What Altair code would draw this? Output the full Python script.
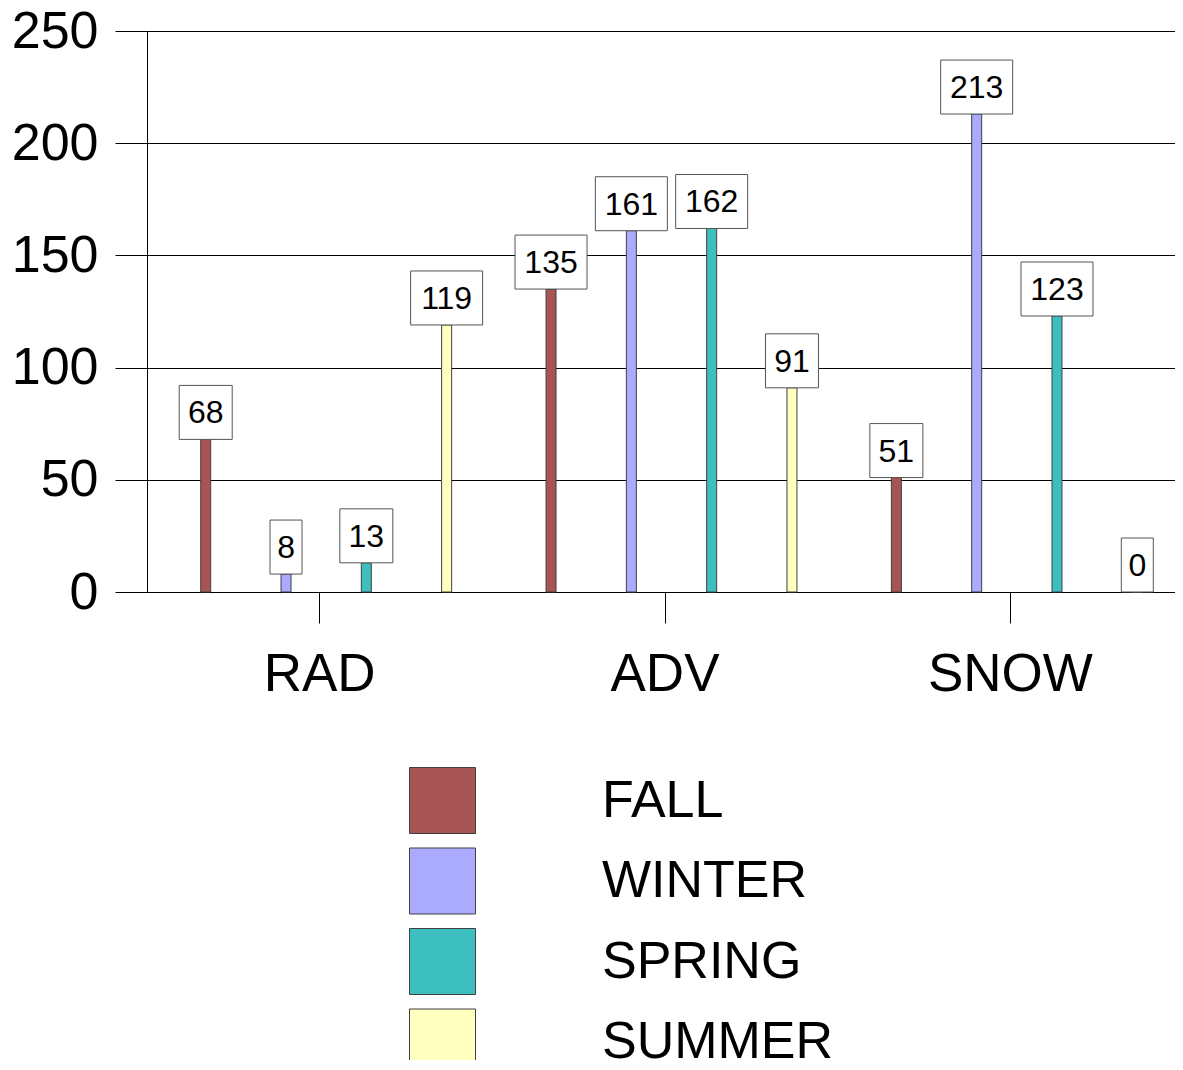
import altair as alt
import pandas as pd

categories = ["RAD", "ADV", "SNOW"]
seasons = ["FALL", "WINTER", "SPRING", "SUMMER"]
fall = [68, 135, 51]
winter = [8, 161, 213]
spring = [13, 162, 123]
summer = [119, 91, 0]
colors = ["#A85454", "#AAAAFF", "#3DBFBF", "#FFFFC0"]

series = {"FALL": fall, "WINTER": winter, "SPRING": spring, "SUMMER": summer}
rows = []
for s in seasons:
    for c, v in zip(categories, series[s]):
        rows.append({"cat": c, "season": s, "value": v})
df = pd.DataFrame(rows)

FONT = "Liberation Sans"

x = alt.X("cat:N", sort=categories, title=None,
          scale=alt.Scale(paddingInner=0, paddingOuter=0, range=[0, 1036]),
          axis=alt.Axis(labelAngle=0, labelFontSize=53, labelColor="black",
                        labelFont=FONT, tickSize=31, tickColor="black",
                        domain=False, grid=False, labelPadding=25))
xo = alt.XOffset("season:N", sort=seasons,
                 scale=alt.Scale(paddingInner=0, paddingOuter=0.15, align=0.77))
yscale = alt.Scale(domain=[0, 250], nice=False)
y = alt.Y("value:Q", scale=yscale, title=None,
          axis=alt.Axis(values=[0, 50, 100, 150, 200, 250], tickSize=32,
                        tickColor="black", labelFontSize=52, labelColor="black",
                        labelFont=FONT, labelPadding=17, grid=True,
                        gridColor="black", gridOpacity=1, domainColor="black"))

bars = alt.Chart(df).mark_bar(width=10, stroke="#404040", strokeWidth=1).encode(
    x=x, xOffset=xo, y=y,
    color=alt.Color("season:N", sort=seasons,
                    scale=alt.Scale(domain=seasons, range=colors),
                    legend=alt.Legend(title=None, orient="none", legendX=262, legendY=736,
                                      symbolType="square", symbolSize=4356,
                                      symbolStrokeColor="#404040", symbolStrokeWidth=1,
                                      labelFontSize=52, labelFont=FONT, labelColor="black",
                                      labelOffset=126, rowPadding=9.5, labelLimit=400))
)

boxes = alt.Chart(df).transform_calculate(
    top="datum.value + 24.06",
    n="length(toString(datum.value))",
    w="datum.n == 1 ? 32 : (datum.n == 2 ? 53 : 72)"
).mark_bar(fill="white", stroke="#555555", strokeWidth=1).encode(
    x=x, xOffset=xo,
    y=alt.Y("value:Q", scale=yscale),
    y2="top:Q",
    size=alt.Size("w:Q", scale=None, legend=None)
)

labels = alt.Chart(df).mark_text(fontSize=32, font=FONT, color="black",
                                 baseline="middle", dy=-26).encode(
    x=x, xOffset=xo,
    y=alt.Y("value:Q", scale=yscale),
    text="value:Q"
)

chart = alt.layer(bars, boxes, labels).properties(
    width=1028, height=561,
    autosize=alt.AutoSizeParams(type="none"),
    padding={"left": 139, "top": 23, "right": 0, "bottom": 468}
).configure_view(stroke=None).configure(font=FONT)

chart.save("out.html", embed_options={"renderer": "svg", "actions": False})
